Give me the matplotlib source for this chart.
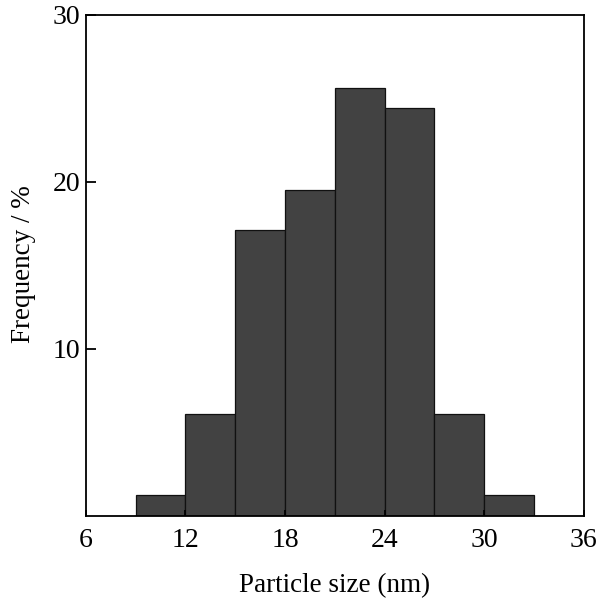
#!/usr/bin/python3
import numpy as np
import matplotlib
matplotlib.use('Agg')
import matplotlib.pyplot as plt

# ==============================================================================
# Data
#
bin_left = [9, 12, 15, 18, 21, 24, 27, 30]
bin_width = 3
frequency = [1.25, 6.1, 17.1, 19.5, 25.6, 24.4, 6.1, 1.25]
x_ticks = [6, 12, 18, 24, 30, 36]
y_ticks = [10, 20, 30]

BAR_COLOR = '#424242'
EDGE_COLOR = '#111111'

plt.rcParams['font.family'] = ['Liberation Serif', 'DejaVu Serif']

# ==============================================================================
# Plot
#
fig = plt.figure(figsize=(6.0, 5.99), dpi=100)
ax = fig.add_axes([0.143, 0.1386, 0.830, 0.8364])

ax.bar(bin_left, frequency, width=bin_width, align='edge',
       color=BAR_COLOR, edgecolor=EDGE_COLOR, linewidth=0.9)

ax.set_xlim(6, 36)
ax.set_ylim(0, 30)
ax.set_xticks(x_ticks)
ax.set_yticks(y_ticks)
ax.tick_params(direction='in', length=7, width=1.3, labelsize=20)
ax.tick_params(axis='x', length=4, pad=9)
ax.tick_params(axis='y', pad=4)
for spine in ax.spines.values():
    spine.set_linewidth(1.3)

ax.set_xlabel('Particle size (nm)', fontsize=19.5)
ax.set_ylabel('Frequency / %', fontsize=19.5)
ax.xaxis.set_label_coords(0.5, -0.115)
ax.yaxis.set_label_coords(-0.125, 0.502)
ax.yaxis.label.set_va('center')

fig.savefig('out.png', dpi=100)
